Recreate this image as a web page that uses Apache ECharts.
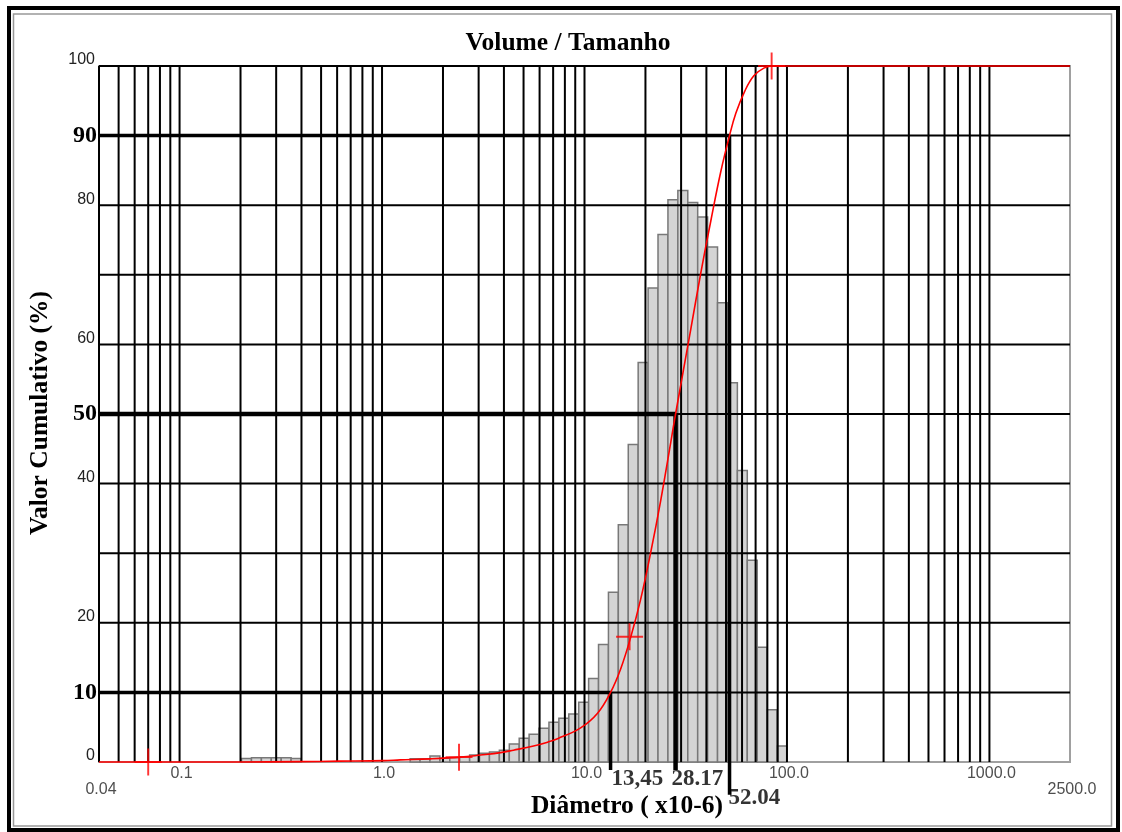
<!DOCTYPE html>
<html><head><meta charset="utf-8">
<script src="https://cdn.jsdelivr.net/npm/echarts@6/dist/echarts.min.js"></script>
<style>html,body{margin:0;padding:0;background:#fff}#c{width:1122px;height:832px}</style>
</head><body><div id="c"></div>
<script>
// ---- texts ----
const titleText = 'Volume / Tamanho';
const xAxisName = 'Diâmetro ( x10-6)';
const yAxisName = 'Valor Cumulativo (%)';

// ---- axis ticks ----
const xMin = 0.04, xMax = 2500;
const xTickValues = [0.04, 0.1, 1, 10, 100, 1000, 2500];
const xTickLabels = ['0.04', '0.1', '1.0', '10.0', '100.0', '1000.0', '2500.0'];
const yTickSmall = [0, 20, 40, 60, 80, 100];
const yTickBold = [10, 50, 90];
const gridDecades = [0.01, 0.1, 1, 10, 100, 1000];
const gridMultipliers = [1, 2, 3, 4, 5, 6, 7, 8, 9];
const gridXMax = 1000;
const gridYValues = [10, 20, 30, 40, 50, 60, 70, 80, 90, 100];

// ---- histogram (bin edges in size units, heights in % of axis) ----
const binEdges = [0.2023, 0.2265, 0.2536, 0.2838, 0.3177, 0.3556, 0.3981, 0.4456, 0.4988, 0.5584,
  0.6250, 0.6996, 0.7832, 0.8767, 0.9813, 1.0985, 1.2298, 1.3766, 1.541, 1.725, 1.931, 2.161,
  2.419, 2.708, 3.031, 3.393, 3.798, 4.252, 4.759, 5.327, 5.963, 6.675, 7.472, 8.364, 9.363,
  10.48, 11.73, 13.13, 14.69, 16.45, 18.41, 20.61, 23.07, 25.83, 28.91, 32.37, 36.23, 40.56,
  45.40, 50.82, 56.89, 63.68, 71.29, 79.80, 89.33, 100];
const binHeights = [0.5, 0.6, 0.6, 0.6, 0.6, 0.5,
  0, 0, 0, 0, 0, 0, 0, 0, 0, 0, 0,
  0.45, 0.45, 0.85, 0.55, 0.65, 0.75, 1.0, 1.25, 1.45, 1.7, 2.6, 3.4, 4.0, 4.85, 5.7, 6.3, 6.9,
  8.6, 12.0, 16.9, 24.4, 34.1, 45.6, 57.4, 68.1, 75.8, 80.8, 82.1, 80.4, 78.3, 74.0, 66.0, 54.5,
  41.9, 29.0, 16.5, 7.5, 2.3];

// ---- cumulative curve ----
const curveSizes = [0.04, 0.199, 0.39, 0.615, 1.015, 1.23, 1.73, 2.44, 3.06, 3.85, 4.46, 5.60,
  6.57, 7.36, 9.57, 11.6, 13.45, 15.1, 16.9, 18.95, 21.2, 23.8, 26.7, 28.17, 33.5, 37.5, 42.1,
  47.1, 52.04, 55.9, 61.9, 68.6, 76.9, 85.2, 2500];
const curvePercents = [0, 0, 0.05, 0.12, 0.2, 0.3, 0.45, 0.7, 1.0, 1.35, 1.7, 2.3,
  2.85, 3.35, 4.9, 7.0, 10, 13.4, 17.9, 23.4, 30.0, 37.6, 46.0, 50, 62.2, 70.2, 77.8,
  84.8, 90, 93.2, 96.4, 98.6, 99.7, 100, 100];

// ---- percentiles (D10, D50, D90) ----
const percentileSizes = [13.45, 28.17, 52.04];
const percentileValues = [10, 50, 90];
const percentileLabels = ['13,45', '28.17', '52.04'];

// ---- red cross markers ----
const markerSizes = [0.07, 2.4, 16.7, 84];
const markerPercents = [0, 0.7, 18, 100];

// ---------------------------------------------------------------
const gridX = [];
gridDecades.forEach(d => gridMultipliers.forEach(m => {
  const v = +(m * d).toPrecision(6);
  if (v >= xMin && v <= gridXMax) gridX.push(v);
}));
const barData = binHeights.map((h, i) => [binEdges[i], binEdges[i + 1], h]);
const curveData = curveSizes.map((s, i) => [s, curvePercents[i]]);
const markerData = markerSizes.map((s, i) => [s, markerPercents[i]]);

const serifBold = '"Liberation Serif", "Times New Roman", serif';
const sans = '"Liberation Sans", Arial, sans-serif';

const chart = echarts.init(document.getElementById('c'), null, {renderer: 'canvas'});

const thickWidths = [3.5, 4.5, 3.5];
const dropTo = [-1.15, -1.15, -4.7];
const thickSeries = percentileSizes.map((s, i) => ({
  type: 'line', z: 3, clip: false, silent: true, symbol: 'none', animation: false,
  lineStyle: {color: '#000', width: thickWidths[i]},
  data: [[xMin, percentileValues[i]], [s, percentileValues[i]], [s, dropTo[i]]]
}));

const option = {
  animation: false,
  backgroundColor: '#fff',
  grid: {left: 99, right: 52, top: 66, bottom: 70, show: true, borderColor: '#a0a0a0', borderWidth: 2, backgroundColor: '#fff'},
  xAxis: {type: 'log', logBase: 10, min: xMin, max: xMax,
    axisLine: {show: false}, axisTick: {show: false}, axisLabel: {show: false}, splitLine: {show: false}},
  yAxis: {type: 'value', min: 0, max: 100, interval: 10,
    axisLine: {show: false}, axisTick: {show: false}, splitLine: {show: false},
    axisLabel: {margin: 2,
      formatter: v => yTickBold.includes(v) ? '{b|' + v + '}' : (yTickSmall.includes(v) ? '{s|' + v + '}' : ''),
      rich: {
        b: {fontFamily: serifBold, fontWeight: 'bold', fontSize: 24, color: '#000'},
        s: {fontFamily: sans, fontSize: 16, color: '#222', padding: [0, 2, 12, 0]}
      }}},
  graphic: [
    {type: 'rect', z: 100, silent: true, shape: {x: 9, y: 8, width: 1109, height: 822}, style: {fill: 'none', stroke: '#000', lineWidth: 4}},
    {type: 'rect', z: 100, silent: true, shape: {x: 13.5, y: 14, width: 1098, height: 812}, style: {fill: 'none', stroke: '#999', lineWidth: 1.5}},
    {type: 'text', z: 100, x: 568, y: 43, style: {text: titleText, font: 'bold 25.5px ' + serifBold, fill: '#000', align: 'center', verticalAlign: 'middle'}},
    {type: 'text', z: 100, x: 40, y: 413, rotation: Math.PI / 2, style: {text: yAxisName, font: 'bold 25.5px ' + serifBold, fill: '#000', align: 'center', verticalAlign: 'middle'}},
    {type: 'text', z: 100, x: 627, y: 806, style: {text: xAxisName, font: 'bold 25.5px ' + serifBold, fill: '#000', align: 'center', verticalAlign: 'middle'}}
  ],
  series: [
    {type: 'custom', z: 1, silent: true, clip: false,
      encode: {x: [0, 1], y: 2},
      data: barData,
      renderItem: (params, api) => {
        const h = api.value(2);
        if (!h) return null;
        const p1 = api.coord([api.value(0), h]);
        const p2 = api.coord([api.value(1), 0]);
        return {type: 'rect', shape: {x: p1[0], y: p1[1], width: p2[0] - p1[0], height: p2[1] - p1[1]},
          style: {fill: '#d4d4d4', stroke: '#787878', lineWidth: 1.5}};
      }},
    {type: 'custom', z: 2, silent: true, clip: false,
      encode: {x: 0, y: 1},
      data: gridX.map(v => [v, 0]),
      renderItem: (params, api) => {
        const a = api.coord([api.value(0), 0]);
        const b = api.coord([api.value(0), 100]);
        return {type: 'line', shape: {x1: a[0], y1: a[1], x2: b[0], y2: b[1]}, style: {stroke: '#000', lineWidth: 2}};
      }},
    {type: 'custom', z: 2, silent: true, clip: false,
      encode: {x: 0, y: 1},
      data: gridYValues.map(v => [xMin, v]),
      renderItem: (params, api) => {
        const a = api.coord([xMin, api.value(1)]);
        const b = api.coord([xMax, api.value(1)]);
        return {type: 'line', shape: {x1: a[0], y1: a[1], x2: b[0], y2: b[1]}, style: {stroke: '#000', lineWidth: 2}};
      }},
    ...thickSeries,
    {type: 'line', z: 4, clip: false, silent: true, symbol: 'none', smooth: 0.4,
      lineStyle: {color: '#ff0000', width: 1.6}, data: curveData},
    {type: 'scatter', z: 5, clip: false, silent: true,
      symbol: 'path://M13,0h2v28h-2zM0,13h28v2h-28z', symbolSize: [27, 27],
      itemStyle: {color: '#ff0000'}, data: markerData},
    {type: 'scatter', z: 6, clip: false, silent: true, symbolSize: 0,
      data: xTickValues.map((v, i) => ({value: [v, 0], name: xTickLabels[i],
        label: {offset: [2, (i === 0 || i === xTickValues.length - 1) ? 28 : 12]}})),
      label: {show: true, position: 'inside', formatter: p => p.name, fontFamily: sans, fontSize: 16, color: '#222',
        align: 'center', verticalAlign: 'middle'}},
    {type: 'scatter', z: 6, clip: false, silent: true, symbolSize: 0,
      data: percentileSizes.map((s, i) => ({value: [s, 0], name: percentileLabels[i],
        label: {offset: [[1, -4, -1][i], [17, 17, 36][i]]}})),
      label: {show: true, position: 'inside', formatter: p => p.name, fontFamily: serifBold, fontWeight: 'bold',
        fontSize: 23, color: '#000', align: 'left', verticalAlign: 'middle'}}
  ]
};
chart.setOption(option);
</script>
</body></html>
